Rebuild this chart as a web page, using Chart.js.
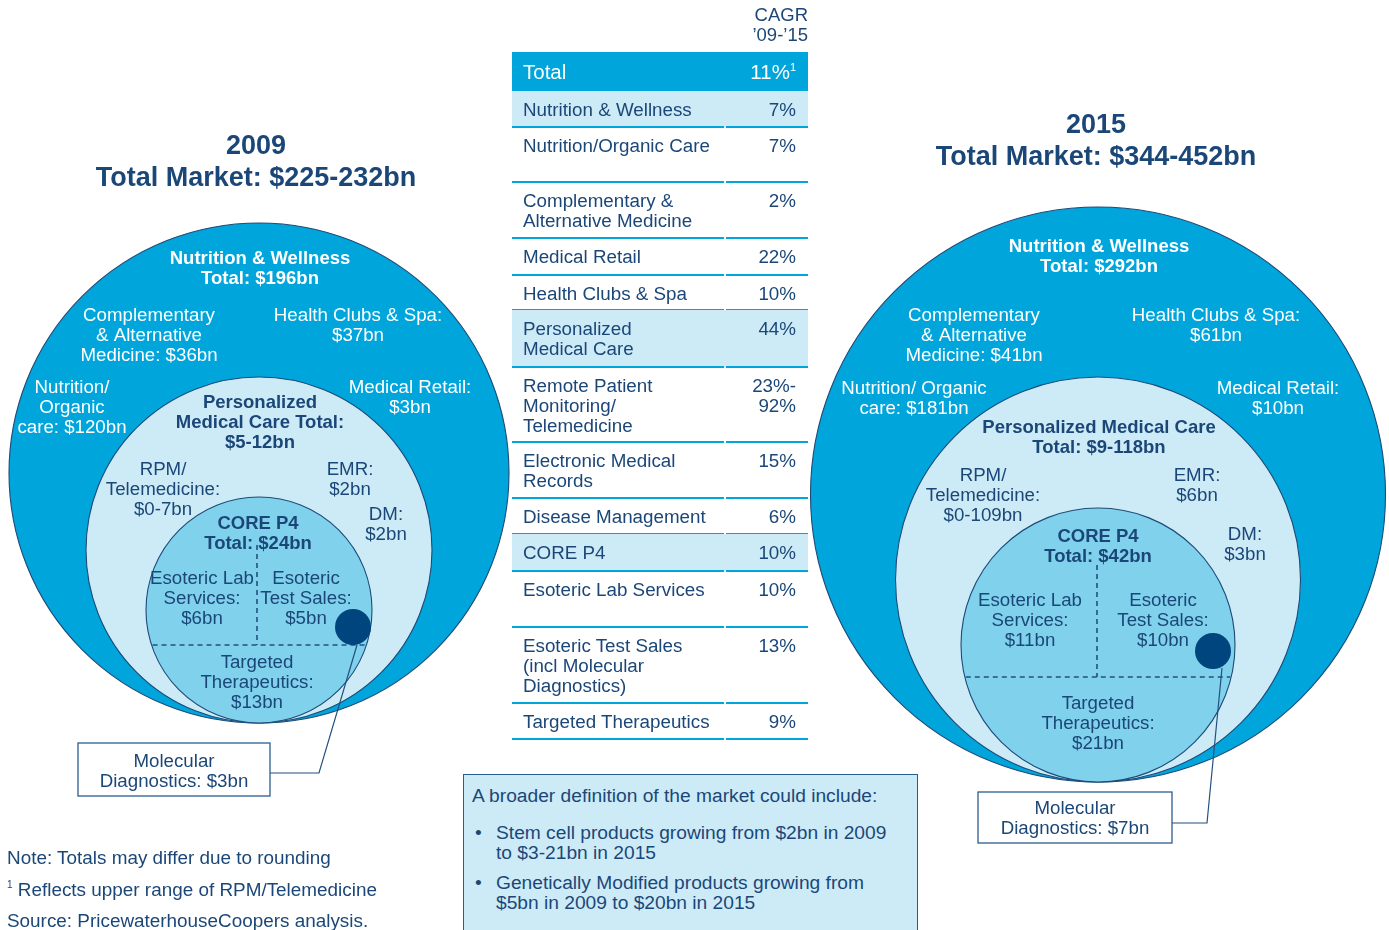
<!DOCTYPE html>
<html>
<head>
<meta charset="utf-8">
<script src="https://cdn.jsdelivr.net/npm/chart.js@4.4.1/dist/chart.umd.min.js"></script>
<style>
  body { margin: 0; background: #fff; font-family: "Liberation Sans", Arial, Helvetica, sans-serif; color: #1b4778; }
  #page { position: relative; width: 1389px; height: 930px; overflow: hidden; }
  #diagram { position: absolute; left: 0; top: 0; }
  .abs { position: absolute; white-space: pre; }
  .title { font-weight: bold; font-size: 27px; line-height: 32px; text-align: center; width: 440px; }
  .cell { position: absolute; font-size: 18.8px; line-height: 20px; white-space: pre; }
  .big { font-size: 19.2px; }
  .rule { position: absolute; height: 1.5px; background: #00a5db; }
  #broader { position: absolute; left: 463px; top: 774px; width: 453px; height: 170px; background: #cdebf7; border: 1.5px solid #2b5d8c; }
  .note { position: absolute; left: 7px; font-size: 18.9px; line-height: 20px; white-space: pre; }
  sup { font-size: 11px; vertical-align: 8px; line-height: 0; }
</style>
</head>
<body>
<div id="page">
  <canvas id="diagram" width="1389" height="930"></canvas>
</div>
<script>
// ---- data ----
const years = ['2009', '2015'];
const totalMarket = ['$225-232bn', '$344-452bn'];

// segments: N&W, Compl/Alt, Health clubs, Nutrition/organic, Medical retail, PMC, RPM, EMR, DM, CORE P4, Eso lab, Eso test, Targeted, Mol diag
const values2009 = ['$196bn', '$36bn', '$37bn', '$120bn', '$3bn', '$5-12bn', '$0-7bn', '$2bn', '$2bn', '$24bn', '$6bn', '$5bn', '$13bn', '$3bn'];
const values2015 = ['$292bn', '$41bn', '$61bn', '$181bn', '$10bn', '$9-118bn', '$0-109bn', '$6bn', '$3bn', '$42bn', '$11bn', '$10bn', '$21bn', '$7bn'];

const cagrLabels = ['Total', 'Nutrition & Wellness', 'Nutrition/Organic Care', 'Complementary &\nAlternative Medicine',
  'Medical Retail', 'Health Clubs & Spa', 'Personalized\nMedical Care', 'Remote Patient\nMonitoring/\nTelemedicine',
  'Electronic Medical\nRecords', 'Disease Management', 'CORE P4', 'Esoteric Lab Services',
  'Esoteric Test Sales\n(incl Molecular\nDiagnostics)', 'Targeted Therapeutics'];
const cagrValues = ['11%¹', '7%', '7%', '2%', '22%', '10%', '44%', '23%-\n92%', '15%', '6%', '10%', '10%', '13%', '9%'];
const cagrHighlight = [1, 6, 10];

const broaderTitle = 'A broader definition of the market could include:';
const broaderItems = ['Stem cell products growing from $2bn in 2009\nto $3-21bn in 2015',
  'Genetically Modified products growing from\n$5bn in 2009 to $20bn in 2015'];
const notes = ['Note: Totals may differ due to rounding', '¹ Reflects upper range of RPM/Telemedicine', 'Source: PricewaterhouseCoopers analysis.'];

// ---- layout ----
const C_OUTER = '#00a5db', C_LIGHT = '#cdebf7', C_MID = '#80d1ec', C_DOT = '#00457d', C_NAVY = '#1b4778', C_EDGE = '#1d4a78';

const diagrams = [
  { values: values2009, titleX: 256, titleY: 129, cx: 259, bottom: 723, radii: [250, 173, 113],
    dot: { x: 353, y: 627, r: 18 }, divY: 645, divX: 257, divTop: 545,
    connector: [{ x: 357, y: 645 }, { x: 319, y: 773 }, { x: 270, y: 773 }],
    box: { x: 78, y: 743, w: 192, h: 53 },
    labels: [
      { k: 0, x: 260, y: 258, lines: ['Nutrition & Wellness', 'Total: {v}'], bold: true, white: true },
      { k: 1, x: 149, y: 315, lines: ['Complementary', '& Alternative', 'Medicine: {v}'], white: true },
      { k: 2, x: 358, y: 315, lines: ['Health Clubs & Spa:', '{v}'], white: true },
      { k: 3, x: 72, y: 387, lines: ['Nutrition/', 'Organic', 'care: {v}'], white: true },
      { k: 4, x: 410, y: 387, lines: ['Medical Retail:', '{v}'], white: true },
      { k: 5, x: 260, y: 402, lines: ['Personalized', 'Medical Care Total:', '{v}'], bold: true },
      { k: 6, x: 163, y: 469, lines: ['RPM/', 'Telemedicine:', '{v}'] },
      { k: 7, x: 350, y: 469, lines: ['EMR:', '{v}'] },
      { k: 8, x: 386, y: 514, lines: ['DM:', '{v}'] },
      { k: 9, x: 258, y: 523, lines: ['CORE P4', 'Total: {v}'], bold: true },
      { k: 10, x: 202, y: 578, lines: ['Esoteric Lab', 'Services:', '{v}'] },
      { k: 11, x: 306, y: 578, lines: ['Esoteric', 'Test Sales:', '{v}'] },
      { k: 12, x: 257, y: 662, lines: ['Targeted', 'Therapeutics:', '{v}'] },
      { k: 13, x: 174, y: 761, lines: ['Molecular', 'Diagnostics: {v}'] }
    ] },
  { values: values2015, titleX: 1096, titleY: 108, cx: 1098, bottom: 782, radii: [287.5, 202.5, 137],
    dot: { x: 1213, y: 651, r: 18 }, divY: 677, divX: 1097, divTop: 565,
    connector: [{ x: 1222, y: 668 }, { x: 1207, y: 823 }, { x: 1172, y: 823 }],
    box: { x: 978, y: 792, w: 194, h: 51 },
    labels: [
      { k: 0, x: 1099, y: 246, lines: ['Nutrition & Wellness', 'Total: {v}'], bold: true, white: true },
      { k: 1, x: 974, y: 315, lines: ['Complementary', '& Alternative', 'Medicine: {v}'], white: true },
      { k: 2, x: 1216, y: 315, lines: ['Health Clubs & Spa:', '{v}'], white: true },
      { k: 3, x: 914, y: 388, lines: ['Nutrition/ Organic', 'care: {v}'], white: true },
      { k: 4, x: 1278, y: 388, lines: ['Medical Retail:', '{v}'], white: true },
      { k: 5, x: 1099, y: 427, lines: ['Personalized Medical Care', 'Total: {v}'], bold: true },
      { k: 6, x: 983, y: 475, lines: ['RPM/', 'Telemedicine:', '{v}'] },
      { k: 7, x: 1197, y: 475, lines: ['EMR:', '{v}'] },
      { k: 8, x: 1245, y: 534, lines: ['DM:', '{v}'] },
      { k: 9, x: 1098, y: 536, lines: ['CORE P4', 'Total: {v}'], bold: true },
      { k: 10, x: 1030, y: 600, lines: ['Esoteric Lab', 'Services:', '{v}'] },
      { k: 11, x: 1163, y: 600, lines: ['Esoteric', 'Test Sales:', '{v}'] },
      { k: 12, x: 1098, y: 703, lines: ['Targeted', 'Therapeutics:', '{v}'] },
      { k: 13, x: 1075, y: 808, lines: ['Molecular', 'Diagnostics: {v}'] }
    ] }
];

const tableLeft = 512, tableRight = 808, tableSplit = 725;
const rowTops = [52, 91, 127, 182, 238, 275, 310, 367, 442, 498, 534, 571, 627, 703, 739];

// ---- html parts ----
const page = document.getElementById('page');
function addDiv(cls, style, html) {
  const d = document.createElement('div');
  d.className = cls;
  Object.assign(d.style, style);
  d.innerHTML = html;
  page.appendChild(d);
  return d;
}

diagrams.forEach((dg, i) => {
  addDiv('abs title', { left: (dg.titleX - 220) + 'px', top: dg.titleY + 'px' },
    years[i] + '<br>Total Market: ' + totalMarket[i]);
});

// CAGR table
addDiv('cell', { left: (tableRight - 100) + 'px', width: '100px', textAlign: 'right', top: '5px', fontSize: '18.5px' }, 'CAGR\n’09-’15');
cagrLabels.forEach((lab, i) => {
  const top = rowTops[i], h = rowTops[i + 1] - top;
  const isTotal = i === 0;
  const bg = isTotal ? C_OUTER : (cagrHighlight.includes(i) ? C_LIGHT : 'transparent');
  addDiv('cell', { left: tableLeft + 'px', top: top + 'px', width: (tableRight - tableLeft) + 'px', height: h + 'px', background: bg }, '');
  const txtStyle = isTotal ? { color: '#fff', fontSize: '20.5px', top: (top + 10) + 'px' } : { top: (top + 9) + 'px' };
  addDiv('cell', Object.assign({ left: (tableLeft + 11) + 'px' }, txtStyle), lab);
  addDiv('cell', Object.assign({ left: (tableRight - 112) + 'px', width: '100px', textAlign: 'right' }, txtStyle),
    cagrValues[i].replace('¹', '<sup>1</sup>'));
  const by = rowTops[i + 1] - 1;
  addDiv('rule', { left: tableLeft + 'px', top: by + 'px', width: (tableSplit - tableLeft - 1) + 'px' }, '');
  addDiv('rule', { left: (tableSplit + 1) + 'px', top: by + 'px', width: (tableRight - tableSplit - 1) + 'px' }, '');
});

// broader definition box
const bx = addDiv('', {}, '');
bx.id = 'broader';
addDiv('cell big', { left: '472px', top: '786px' }, broaderTitle);
broaderItems.forEach((t, i) => {
  const y = 823 + i * 50;
  addDiv('cell big', { left: '475px', top: y + 'px' }, '•');
  addDiv('cell big', { left: '496px', top: y + 'px' }, t);
});

notes.forEach((t, i) => {
  addDiv('note', { top: (848 + i * 31.5) + 'px' }, t.replace('¹', '<sup style="font-size:10px">1</sup>'));
});

// ---- chart ----
function rPx(ctx) {
  const d = ctx.raw;
  if (!d || d.r === undefined) return 0;
  const sx = ctx.chart.scales.x;
  return Math.abs(sx.getPixelForValue(d.r) - sx.getPixelForValue(0));
}

const circles = [], circleFill = [];
const dots = [];
const lineSets = [];
diagrams.forEach(dg => {
  dg.radii.forEach((r, j) => {
    circles.push({ x: dg.cx, y: dg.bottom - r, r: r });
    circleFill.push([C_OUTER, C_LIGHT, C_MID][j]);
  });
  dots.push(dg.dot);
  // dividers inside CORE P4 circle, ends found on the circle edge
  const r = dg.radii[2], cy = dg.bottom - r;
  const half = Math.sqrt(r * r - (dg.divY - cy) * (dg.divY - cy));
  lineSets.push({ data: [{ x: dg.cx - half + 1, y: dg.divY }, { x: dg.cx + half - 1, y: dg.divY }], dash: [5, 4] });
  lineSets.push({ data: [{ x: dg.divX, y: dg.divTop }, { x: dg.divX, y: dg.divY }], dash: [5, 4] });
  lineSets.push({ data: dg.connector, dash: [] });
});

const labelPlugin = {
  id: 'labels',
  afterDatasetsDraw(chart) {
    const ctx = chart.ctx, sx = chart.scales.x, sy = chart.scales.y;
    ctx.save();
    diagrams.forEach(dg => {
      const b = dg.box;
      const x0 = sx.getPixelForValue(b.x), y0 = sy.getPixelForValue(b.y);
      const x1 = sx.getPixelForValue(b.x + b.w), y1 = sy.getPixelForValue(b.y + b.h);
      ctx.fillStyle = '#fff';
      ctx.fillRect(x0, y0, x1 - x0, y1 - y0);
      ctx.strokeStyle = '#2b5d8c';
      ctx.lineWidth = 1.3;
      ctx.strokeRect(x0, y0, x1 - x0, y1 - y0);

      ctx.textAlign = 'center';
      ctx.textBaseline = 'middle';
      dg.labels.forEach(l => {
        ctx.font = (l.bold ? 'bold 18.5px' : '18.7px') + ' "Liberation Sans", Arial, sans-serif';
        ctx.fillStyle = l.white ? '#fff' : C_NAVY;
        l.lines.forEach((t, n) => {
          ctx.fillText(t.replace('{v}', dg.values[l.k]), sx.getPixelForValue(l.x), sy.getPixelForValue(l.y + n * 20) + 1);
        });
      });
    });
    ctx.restore();
  }
};

const datasets = [
  { data: dots, pointRadius: rPx, pointBackgroundColor: C_DOT, pointBorderColor: C_DOT, pointBorderWidth: 0 }
];
lineSets.forEach(ls => datasets.push({
  data: ls.data, showLine: true, borderColor: '#234f7e', borderWidth: ls.dash.length ? 1.6 : 1.2,
  borderDash: ls.dash, pointRadius: 0, fill: false, tension: 0
}));
datasets.push({ data: circles, pointRadius: rPx, pointBackgroundColor: circleFill, pointBorderColor: C_EDGE, pointBorderWidth: 1.1 });
datasets.forEach(d => { d.clip = false; });

new Chart(document.getElementById('diagram'), {
  type: 'scatter',
  data: { datasets: datasets },
  options: {
    responsive: false,
    animation: false,
    events: [],
    layout: { padding: 0 },
    plugins: { legend: { display: false }, tooltip: { enabled: false } },
    scales: {
      x: { type: 'linear', min: 0, max: 1389, display: false },
      y: { type: 'linear', min: 0, max: 930, reverse: true, display: false }
    }
  },
  plugins: [labelPlugin]
});
</script>
</body>
</html>
